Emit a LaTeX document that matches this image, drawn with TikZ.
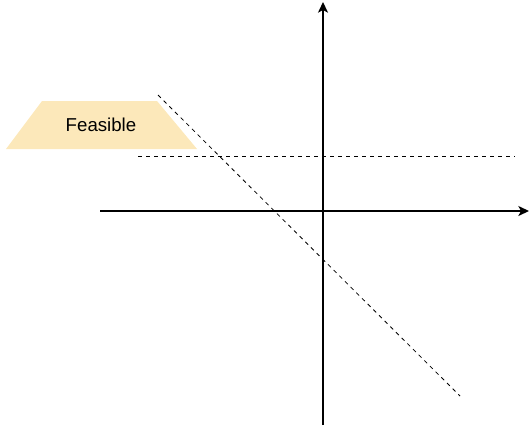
\documentclass[tikz,border=0pt]{standalone}
\usepackage{fontspec}
\setmainfont{Liberation Sans}
\usetikzlibrary{arrows.meta}
\definecolor{feas}{RGB}{252,232,186}
\tikzset{
  axis/.style={line width=1.1pt, -{Stealth[length=8pt,width=7.5pt,inset=2pt]}},
  guide/.style={line width=0.6pt, dash pattern=on 3pt off 3pt},
}
\begin{document}
\begin{tikzpicture}[x=0.75pt,y=-0.75pt]
\useasboundingbox (0,0) rectangle (530,432);
% feasible region label
\fill[feas] (42,101) -- (157,101) -- (197,149) -- (6,149) -- cycle;
\node[font=\fontsize{14}{16}\selectfont, inner sep=0pt] (feas) at (101,125) {Feasible};
% axes
\coordinate (xs) at (100,211);
\coordinate (xe) at (529,211);
\coordinate (ys) at (323,425);
\coordinate (ye) at (323,2);
\draw[axis] (xs) -- (xe);
\draw[axis] (ys) -- (ye);
% guides
\coordinate (h1) at (138,156);
\coordinate (h2) at (515,156);
\coordinate (d1) at (158,95);
\coordinate (d2) at (460,396);
\draw[guide] (h1) -- (h2);
\draw[guide] (d1) -- (d2);
\end{tikzpicture}
\end{document}
